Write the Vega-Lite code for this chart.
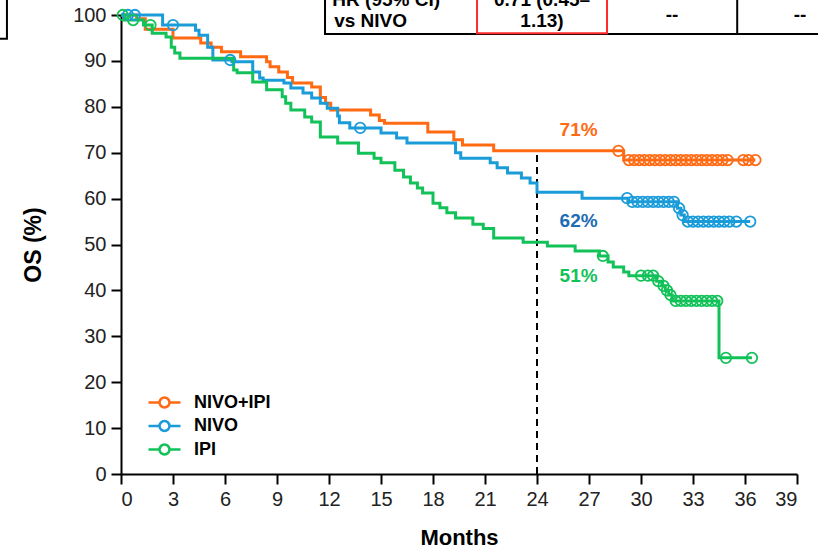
{
  "$schema": "https://vega.github.io/schema/vega-lite/v6.json",
  "autosize": "none",
  "padding": {"left": 121, "top": 15, "right": 21, "bottom": 77},
  "width": 676,
  "height": 459,
  "background": "white",
  "config": {
    "view": {"stroke": null},
    "font": "Liberation Sans",
    "axis": {
      "grid": false,
      "domainColor": "black",
      "domainWidth": 2,
      "tickColor": "black",
      "tickWidth": 2,
      "tickSize": 10,
      "labelFont": "Liberation Sans",
      "labelFontSize": 20,
      "labelColor": "#222",
      "titleFont": "Liberation Sans",
      "titleFontSize": 22,
      "titleFontWeight": "bold",
      "titleColor": "black"
    }
  },
  "datasets": {
    "curves": [
      {"series": "NIVO+IPI", "month": 0, "os": 100}, {"series": "NIVO+IPI", "month": 0.9, "os": 99.2}, {"series": "NIVO+IPI", "month": 1.4, "os": 96.9}, {"series": "NIVO+IPI", "month": 3.0, "os": 95.0}, {"series": "NIVO+IPI", "month": 4.6, "os": 93.9}, {"series": "NIVO+IPI", "month": 5.2, "os": 93.0}, {"series": "NIVO+IPI", "month": 5.8, "os": 92.0}, {"series": "NIVO+IPI", "month": 6.9, "os": 90.9}, {"series": "NIVO+IPI", "month": 8.4, "os": 89.8}, {"series": "NIVO+IPI", "month": 8.6, "os": 88.7}, {"series": "NIVO+IPI", "month": 9.1, "os": 87.6}, {"series": "NIVO+IPI", "month": 9.6, "os": 86.4}, {"series": "NIVO+IPI", "month": 9.9, "os": 85.2}, {"series": "NIVO+IPI", "month": 11.0, "os": 84.3}, {"series": "NIVO+IPI", "month": 11.5, "os": 82.0}, {"series": "NIVO+IPI", "month": 11.8, "os": 80.8}, {"series": "NIVO+IPI", "month": 12.1, "os": 79.3}, {"series": "NIVO+IPI", "month": 14.4, "os": 78.2}, {"series": "NIVO+IPI", "month": 14.9, "os": 77.0}, {"series": "NIVO+IPI", "month": 15.2, "os": 76.4}, {"series": "NIVO+IPI", "month": 17.7, "os": 74.5}, {"series": "NIVO+IPI", "month": 19.2, "os": 72.8}, {"series": "NIVO+IPI", "month": 19.7, "os": 71.7}, {"series": "NIVO+IPI", "month": 21.5, "os": 70.4}, {"series": "NIVO+IPI", "month": 29.0, "os": 68.4}, {"series": "NIVO+IPI", "month": 36.6, "os": 68.4},
      {"series": "NIVO", "month": 0, "os": 100}, {"series": "NIVO", "month": 2.4, "os": 97.8}, {"series": "NIVO", "month": 4.3, "os": 96.7}, {"series": "NIVO", "month": 4.5, "os": 95.6}, {"series": "NIVO", "month": 5.0, "os": 93.0}, {"series": "NIVO", "month": 5.3, "os": 90.2}, {"series": "NIVO", "month": 6.4, "os": 89.8}, {"series": "NIVO", "month": 7.6, "os": 87.6}, {"series": "NIVO", "month": 8.0, "os": 86.3}, {"series": "NIVO", "month": 8.2, "os": 85.8}, {"series": "NIVO", "month": 9.4, "os": 85.2}, {"series": "NIVO", "month": 9.8, "os": 84.1}, {"series": "NIVO", "month": 10.5, "os": 83.0}, {"series": "NIVO", "month": 11.0, "os": 81.9}, {"series": "NIVO", "month": 11.5, "os": 80.8}, {"series": "NIVO", "month": 11.9, "os": 79.7}, {"series": "NIVO", "month": 12.5, "os": 78.0}, {"series": "NIVO", "month": 12.6, "os": 76.5}, {"series": "NIVO", "month": 13.2, "os": 75.4}, {"series": "NIVO", "month": 15.0, "os": 74.3}, {"series": "NIVO", "month": 15.9, "os": 73.2}, {"series": "NIVO", "month": 16.5, "os": 72.1}, {"series": "NIVO", "month": 19.3, "os": 70.0}, {"series": "NIVO", "month": 19.6, "os": 68.8}, {"series": "NIVO", "month": 21.3, "os": 67.8}, {"series": "NIVO", "month": 21.7, "os": 66.7}, {"series": "NIVO", "month": 22.3, "os": 65.6}, {"series": "NIVO", "month": 23.1, "os": 64.5}, {"series": "NIVO", "month": 23.6, "os": 63.4}, {"series": "NIVO", "month": 24.0, "os": 61.4}, {"series": "NIVO", "month": 26.6, "os": 60.1}, {"series": "NIVO", "month": 29.3, "os": 59.3}, {"series": "NIVO", "month": 32.1, "os": 57.9}, {"series": "NIVO", "month": 32.3, "os": 56.4}, {"series": "NIVO", "month": 32.5, "os": 55.0}, {"series": "NIVO", "month": 36.3, "os": 55.0},
      {"series": "IPI", "month": 0, "os": 100}, {"series": "IPI", "month": 0.2, "os": 98.9}, {"series": "IPI", "month": 1.3, "os": 97.8}, {"series": "IPI", "month": 1.8, "os": 96.0}, {"series": "IPI", "month": 2.6, "os": 95.2}, {"series": "IPI", "month": 2.9, "os": 93.0}, {"series": "IPI", "month": 3.1, "os": 91.7}, {"series": "IPI", "month": 3.4, "os": 90.6}, {"series": "IPI", "month": 6.5, "os": 88.0}, {"series": "IPI", "month": 6.7, "os": 87.4}, {"series": "IPI", "month": 7.6, "os": 85.4}, {"series": "IPI", "month": 8.4, "os": 83.7}, {"series": "IPI", "month": 9.3, "os": 82.2}, {"series": "IPI", "month": 9.5, "os": 80.8}, {"series": "IPI", "month": 9.8, "os": 79.3}, {"series": "IPI", "month": 10.6, "os": 77.8}, {"series": "IPI", "month": 11.0, "os": 76.7}, {"series": "IPI", "month": 11.5, "os": 73.4}, {"series": "IPI", "month": 12.5, "os": 72.1}, {"series": "IPI", "month": 13.7, "os": 69.9}, {"series": "IPI", "month": 14.6, "os": 68.8}, {"series": "IPI", "month": 15.0, "os": 67.8}, {"series": "IPI", "month": 15.8, "os": 66.2}, {"series": "IPI", "month": 16.3, "os": 64.7}, {"series": "IPI", "month": 16.7, "os": 63.4}, {"series": "IPI", "month": 17.1, "os": 62.3}, {"series": "IPI", "month": 17.4, "os": 61.2}, {"series": "IPI", "month": 18.0, "os": 59.0}, {"series": "IPI", "month": 18.4, "os": 58.0}, {"series": "IPI", "month": 18.8, "os": 56.9}, {"series": "IPI", "month": 19.3, "os": 55.8}, {"series": "IPI", "month": 20.3, "os": 54.4}, {"series": "IPI", "month": 20.9, "os": 53.5}, {"series": "IPI", "month": 21.5, "os": 51.4}, {"series": "IPI", "month": 23.2, "os": 50.5}, {"series": "IPI", "month": 24.6, "os": 49.7}, {"series": "IPI", "month": 26.2, "os": 48.6}, {"series": "IPI", "month": 27.6, "os": 47.5}, {"series": "IPI", "month": 28.1, "os": 46.2}, {"series": "IPI", "month": 28.4, "os": 45.1}, {"series": "IPI", "month": 29.0, "os": 44.0}, {"series": "IPI", "month": 29.3, "os": 43.2}, {"series": "IPI", "month": 30.9, "os": 42.0}, {"series": "IPI", "month": 31.2, "os": 41.0}, {"series": "IPI", "month": 31.4, "os": 40.0}, {"series": "IPI", "month": 31.6, "os": 39.0}, {"series": "IPI", "month": 31.8, "os": 37.7}, {"series": "IPI", "month": 34.5, "os": 25.3}, {"series": "IPI", "month": 36.4, "os": 25.3}
    ],
    "censor": [
      {"series": "NIVO+IPI", "month": 28.7, "os": 70.4}, {"series": "NIVO+IPI", "month": 29.3, "os": 68.4}, {"series": "NIVO+IPI", "month": 29.6, "os": 68.4}, {"series": "NIVO+IPI", "month": 29.9, "os": 68.4}, {"series": "NIVO+IPI", "month": 30.2, "os": 68.4}, {"series": "NIVO+IPI", "month": 30.5, "os": 68.4}, {"series": "NIVO+IPI", "month": 30.8, "os": 68.4}, {"series": "NIVO+IPI", "month": 31.1, "os": 68.4}, {"series": "NIVO+IPI", "month": 31.4, "os": 68.4}, {"series": "NIVO+IPI", "month": 31.7, "os": 68.4}, {"series": "NIVO+IPI", "month": 32.0, "os": 68.4}, {"series": "NIVO+IPI", "month": 32.3, "os": 68.4}, {"series": "NIVO+IPI", "month": 32.6, "os": 68.4}, {"series": "NIVO+IPI", "month": 32.9, "os": 68.4}, {"series": "NIVO+IPI", "month": 33.2, "os": 68.4}, {"series": "NIVO+IPI", "month": 33.5, "os": 68.4}, {"series": "NIVO+IPI", "month": 33.8, "os": 68.4}, {"series": "NIVO+IPI", "month": 34.1, "os": 68.4}, {"series": "NIVO+IPI", "month": 34.4, "os": 68.4}, {"series": "NIVO+IPI", "month": 34.7, "os": 68.4}, {"series": "NIVO+IPI", "month": 35.0, "os": 68.4}, {"series": "NIVO+IPI", "month": 35.9, "os": 68.4}, {"series": "NIVO+IPI", "month": 36.2, "os": 68.4}, {"series": "NIVO+IPI", "month": 36.6, "os": 68.4},
      {"series": "NIVO", "month": 0.4, "os": 100}, {"series": "NIVO", "month": 0.8, "os": 100}, {"series": "NIVO", "month": 3.0, "os": 97.8}, {"series": "NIVO", "month": 6.3, "os": 90.2}, {"series": "NIVO", "month": 13.8, "os": 75.4}, {"series": "NIVO", "month": 29.2, "os": 60.1}, {"series": "NIVO", "month": 29.5, "os": 59.3}, {"series": "NIVO", "month": 29.8, "os": 59.3}, {"series": "NIVO", "month": 30.1, "os": 59.3}, {"series": "NIVO", "month": 30.4, "os": 59.3}, {"series": "NIVO", "month": 30.7, "os": 59.3}, {"series": "NIVO", "month": 31.0, "os": 59.3}, {"series": "NIVO", "month": 31.3, "os": 59.3}, {"series": "NIVO", "month": 31.6, "os": 59.3}, {"series": "NIVO", "month": 31.9, "os": 59.3}, {"series": "NIVO", "month": 32.2, "os": 57.9}, {"series": "NIVO", "month": 32.4, "os": 56.4}, {"series": "NIVO", "month": 32.7, "os": 55.0}, {"series": "NIVO", "month": 33.0, "os": 55.0}, {"series": "NIVO", "month": 33.3, "os": 55.0}, {"series": "NIVO", "month": 33.6, "os": 55.0}, {"series": "NIVO", "month": 33.9, "os": 55.0}, {"series": "NIVO", "month": 34.2, "os": 55.0}, {"series": "NIVO", "month": 34.5, "os": 55.0}, {"series": "NIVO", "month": 34.8, "os": 55.0}, {"series": "NIVO", "month": 35.1, "os": 55.0}, {"series": "NIVO", "month": 35.5, "os": 55.0}, {"series": "NIVO", "month": 36.3, "os": 55.0},
      {"series": "IPI", "month": 0.1, "os": 100}, {"series": "IPI", "month": 0.7, "os": 98.9}, {"series": "IPI", "month": 1.7, "os": 97.8}, {"series": "IPI", "month": 27.8, "os": 47.5}, {"series": "IPI", "month": 30.0, "os": 43.2}, {"series": "IPI", "month": 30.4, "os": 43.2}, {"series": "IPI", "month": 30.7, "os": 43.2}, {"series": "IPI", "month": 31.0, "os": 42.0}, {"series": "IPI", "month": 31.3, "os": 41.0}, {"series": "IPI", "month": 31.5, "os": 40.0}, {"series": "IPI", "month": 31.7, "os": 39.0}, {"series": "IPI", "month": 32.0, "os": 37.7}, {"series": "IPI", "month": 32.3, "os": 37.7}, {"series": "IPI", "month": 32.6, "os": 37.7}, {"series": "IPI", "month": 32.9, "os": 37.7}, {"series": "IPI", "month": 33.2, "os": 37.7}, {"series": "IPI", "month": 33.5, "os": 37.7}, {"series": "IPI", "month": 33.8, "os": 37.7}, {"series": "IPI", "month": 34.1, "os": 37.7}, {"series": "IPI", "month": 34.4, "os": 37.7}, {"series": "IPI", "month": 34.9, "os": 25.3}, {"series": "IPI", "month": 36.4, "os": 25.3}
    ],
    "labels": [
      {"series": "NIVO+IPI", "month": 26.4, "os": 74.9, "text": "71%"},
      {"series": "NIVO", "month": 26.4, "os": 55.1, "text": "62%"},
      {"series": "IPI", "month": 26.4, "os": 43.1, "text": "51%"}
    ],
    "cells": [
      {"kind": "frame", "x": 11.77, "x2": 42, "y": 95.86, "y2": 112},
      {"kind": "frame", "x": -12, "x2": -6.58, "y": 94.8, "y2": 112},
      {"kind": "hr", "x": 20.54, "x2": 28.04, "y": 96.0, "y2": 112}
    ],
    "cellLines": [
      {"x": 35.55, "y": 95.86, "y2": 112}
    ],
    "cellText": [
      {"x": 15.3, "y": 102.0, "text": "HR (95% CI)"},
      {"x": 14.4, "y": 97.3, "text": "vs NIVO"},
      {"x": 24.29, "y": 102.0, "text": "0.71 (0.45–"},
      {"x": 24.29, "y": 97.3, "text": "1.13)"},
      {"x": 31.79, "y": 98.6, "text": "--"},
      {"x": 39.18, "y": 98.6, "text": "--"}
    ],
    "ref": [{"month": 24, "os": 0, "os2": 70.4}]
  },
  "layer": [
    {
      "data": {"name": "ref"},
      "mark": {"type": "rule", "color": "black", "strokeWidth": 2, "strokeDash": [7, 5]},
      "encoding": {
        "x": {"field": "month", "type": "quantitative", "scale": {"domain": [0, 39], "nice": false}},
        "y": {"field": "os", "type": "quantitative", "scale": {"domain": [0, 100], "nice": false}},
        "y2": {"field": "os2"}
      }
    },
    {
      "data": {"name": "curves"},
      "mark": {"type": "line", "interpolate": "step-after", "strokeWidth": 3},
      "encoding": {
        "x": {"field": "month", "type": "quantitative", "scale": {"domain": [0, 39], "nice": false},
              "axis": {"values": [0, 3, 6, 9, 12, 15, 18, 21, 24, 27, 30, 33, 36, 39], "title": "Months", "titlePadding": 18, "labelPadding": 5}},
        "y": {"field": "os", "type": "quantitative", "scale": {"domain": [0, 100], "nice": false},
              "axis": {"values": [0, 10, 20, 30, 40, 50, 60, 70, 80, 90, 100], "title": "OS (%)", "titleFontSize": 23, "titlePadding": 27, "labelPadding": 5}},
        "color": {
          "field": "series", "type": "nominal",
          "scale": {"domain": ["NIVO+IPI", "NIVO", "IPI"], "range": ["#FF6A13", "#1A9CD9", "#12C259"]},
          "legend": {
            "title": null, "orient": "none", "legendX": 34, "legendY": 378,
            "symbolType": "M-2,0L-0.62,0M0.62,0L2,0M0.62,0A0.62,0.62 0 1 0 -0.62,0A0.62,0.62 0 1 0 0.62,0",
            "symbolSize": 256, "symbolStrokeWidth": 2.5, "symbolFillColor": "white",
            "labelFont": "Liberation Sans", "labelFontSize": 18, "labelFontWeight": "bold", "labelColor": "black",
            "labelOffset": 20, "rowPadding": 2.5
          }
        },
        "detail": {"field": "series"}
      }
    },
    {
      "data": {"name": "censor"},
      "mark": {"type": "point", "shape": "circle", "filled": false, "size": 110, "strokeWidth": 1.8, "opacity": 1},
      "encoding": {
        "x": {"field": "month", "type": "quantitative"},
        "y": {"field": "os", "type": "quantitative"},
        "color": {"field": "series", "type": "nominal"}
      }
    },
    {
      "data": {"name": "labels"},
      "mark": {"type": "text", "font": "Liberation Sans", "fontSize": 19, "fontWeight": "bold", "align": "center", "baseline": "middle"},
      "encoding": {
        "x": {"field": "month", "type": "quantitative"},
        "y": {"field": "os", "type": "quantitative"},
        "text": {"field": "text"},
        "color": {
          "condition": [
            {"test": "datum.series === 'NIVO+IPI'", "value": "#FF6A13"},
            {"test": "datum.series === 'NIVO'", "value": "#1E6DB4"}
          ],
          "value": "#12C259"
        }
      }
    },
    {
      "data": {"name": "cells"},
      "mark": {"type": "rect", "fill": "white", "strokeWidth": 2},
      "encoding": {
        "x": {"field": "x", "type": "quantitative"},
        "x2": {"field": "x2"},
        "y": {"field": "y", "type": "quantitative"},
        "y2": {"field": "y2"},
        "stroke": {
          "condition": {"test": "datum.kind === 'hr'", "value": "#FF2A2A"},
          "value": "black"
        }
      }
    },
    {
      "data": {"name": "cellLines"},
      "mark": {"type": "rule", "color": "black", "strokeWidth": 2},
      "encoding": {
        "x": {"field": "x", "type": "quantitative"},
        "y": {"field": "y", "type": "quantitative"},
        "y2": {"field": "y2"}
      }
    },
    {
      "data": {"name": "cellText"},
      "mark": {"type": "text", "font": "Liberation Sans", "fontSize": 19, "fontWeight": "bold", "align": "center", "baseline": "alphabetic", "color": "black"},
      "encoding": {
        "x": {"field": "x", "type": "quantitative"},
        "y": {"field": "y", "type": "quantitative"},
        "text": {"field": "text"}
      }
    }
  ]
}
